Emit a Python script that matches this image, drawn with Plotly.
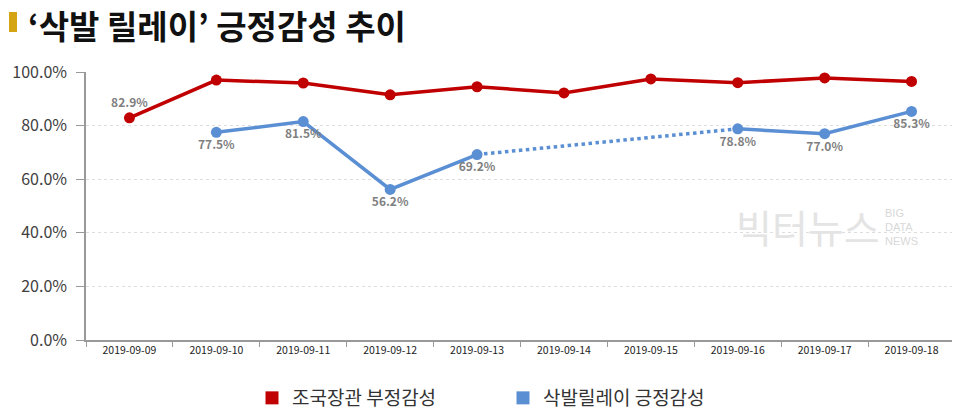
import plotly.graph_objects as go

dates = ["2019-09-09", "2019-09-10", "2019-09-11", "2019-09-12", "2019-09-13",
         "2019-09-14", "2019-09-15", "2019-09-16", "2019-09-17", "2019-09-18"]
red_vals = [82.9, 97.0, 95.9, 91.5, 94.5, 92.2, 97.4, 96.0, 97.8, 96.5]
red_labels = ["82.9%", "97.0%", "", "", "", "", "", "", "97.8%", "96.5%"]
blue_vals = [None, 77.5, 81.5, 56.2, 69.2, None, None, 78.8, 77.0, 85.3]
blue_labels = ["", "77.5%", "81.5%", "56.2%", "69.2%", "", "", "78.8%", "77.0%", "85.3%"]
blue_gap = [None, None, None, None, 69.2, None, None, 78.8, None, None]
y_ticks = [0, 20, 40, 60, 80, 100]

RED = "#C00000"
BLUE = "#5B8FD4"
LABEL_C = "#7F7F7F"
FONT = "Noto Sans CJK KR"

# page body has an 8px default margin; compensate
O = 8
W, H = 960 - O, 411 - O
L, T = 86 - O, 72 - O
R = W - (955 - O)
B = H - (340 - O)
pw = W - L - R
ph = H - T - B

fig = go.Figure()

fig.add_trace(go.Scatter(
    x=dates, y=blue_gap, mode="lines", connectgaps=True,
    line=dict(color=BLUE, width=3.5, dash="dot"),
    showlegend=False, hoverinfo="skip"))

fig.add_trace(go.Scatter(
    x=dates, y=red_vals, mode="lines+markers+text",
    line=dict(color=RED, width=3.5), marker=dict(size=11, color=RED),
    text=red_labels, textposition="top center",
    textfont=dict(size=12, color=LABEL_C, family=FONT, weight="bold"),
    showlegend=False))

fig.add_trace(go.Scatter(
    x=dates, y=blue_vals, mode="lines+markers+text",
    line=dict(color=BLUE, width=3.5), marker=dict(size=11, color=BLUE),
    text=blue_labels, textposition="bottom center",
    textfont=dict(size=12, color=LABEL_C, family=FONT, weight="bold"),
    showlegend=False))

# legend entries
fig.add_trace(go.Scatter(x=[None], y=[None], mode="markers", name="조국장관 부정감성",
                         marker=dict(symbol="square", size=13, color=RED)))
fig.add_trace(go.Scatter(x=[None], y=[None], mode="markers", name="삭발릴레이 긍정감성",
                         marker=dict(symbol="square", size=13, color=BLUE)))

def px_x(p):
    return (p - O - L) / pw

def px_y(p):
    return (H - B - (p - O)) / ph

fig.add_shape(type="rect", xref="paper", yref="paper",
              x0=px_x(9), x1=px_x(17), y0=px_y(32), y1=px_y(12),
              fillcolor="#D4A413", line=dict(width=0))

fig.add_annotation(text="‘삭발 릴레이’ 긍정감성 추이", xref="paper", yref="paper",
                   x=px_x(27), y=px_y(25), xanchor="left", yanchor="middle",
                   showarrow=False, borderpad=0,
                   font=dict(size=33, color="#111111", family=FONT, weight="bold"))

fig.add_annotation(text="빅터뉴스", xref="paper", yref="paper",
                   x=px_x(808), y=px_y(226), xanchor="center", yanchor="middle",
                   showarrow=False,
                   font=dict(size=39, color="#E4E4E4", family=FONT))
for i, word in enumerate(["BIG", "DATA", "NEWS"]):
    fig.add_annotation(text=word, xref="paper", yref="paper",
                       x=px_x(884), y=px_y(213 + 14 * i), xanchor="left", yanchor="middle",
                       showarrow=False, borderpad=0,
                       font=dict(size=11, color="#D8D8D8", family="Liberation Sans"))

fig.update_layout(
    width=W, height=H,
    margin=dict(l=L, r=R, t=T, b=B, autoexpand=False),
    paper_bgcolor="white", plot_bgcolor="white",
    font=dict(family=FONT, color="#333333"),
    legend=dict(orientation="h", xref="paper", yref="paper",
                x=px_x(252), xanchor="left", y=px_y(398), yanchor="middle",
                font=dict(size=19, color="#333333", family=FONT),
                entrywidth=206, itemwidth=30, itemsizing="trace"),
    xaxis=dict(type="category", range=[-0.5, 9.5], showgrid=False, automargin=False,
               showline=True, linecolor="#999999", linewidth=1.5,
               ticks="outside", tickson="boundaries", ticklen=5,
               tickcolor="#999999", tickfont=dict(size=10.5, color="#222222"),
               fixedrange=True),
    yaxis=dict(range=[0, 100], tickvals=y_ticks, automargin=False,
               ticktext=[f"{v:.1f}%" for v in y_ticks],
               showgrid=True, gridcolor="#DDDDDD", griddash="dot", gridwidth=1,
               showline=True, linecolor="#999999", linewidth=1.5,
               ticks="outside", ticklen=8, tickcolor="#999999", ticklabelstandoff=6,
               tickfont=dict(size=16, color="#404040"), zeroline=False),
)

fig.write_html("out.html")
